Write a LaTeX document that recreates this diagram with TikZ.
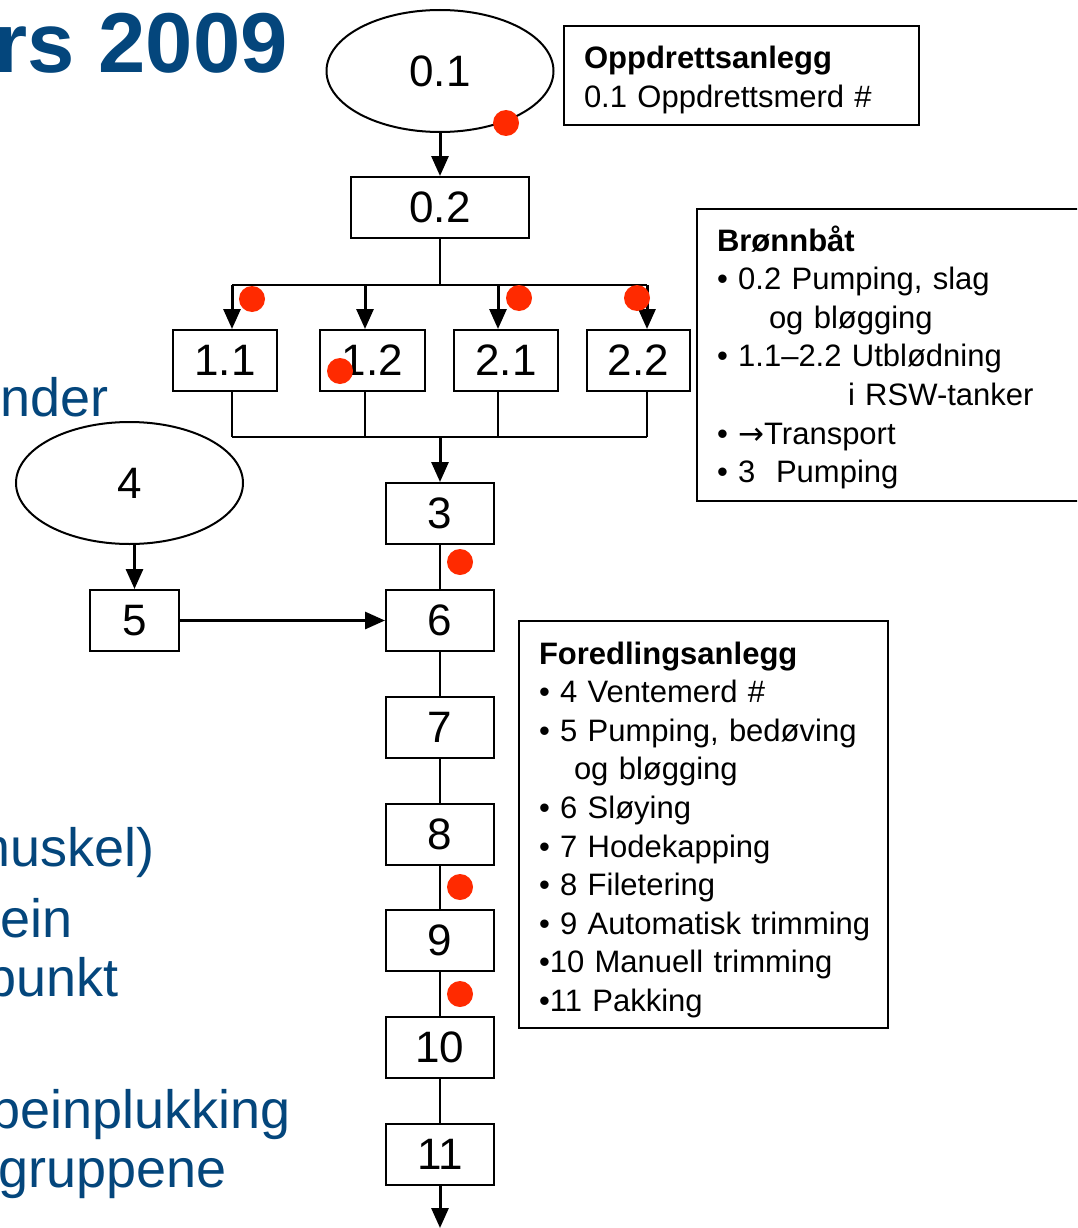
\documentclass[tikz,border=0pt]{standalone}
\usepackage{fontspec}
\setmainfont{Liberation Sans}
\newfontfamily\arrowfont{DejaVu Sans}
\usetikzlibrary{arrows.meta,shapes.geometric}
\definecolor{slideblue}{RGB}{4,70,124}
\definecolor{dotred}{RGB}{255,42,0}
\newcommand{\numfont}{\fontsize{44}{44}\selectfont}
\newcommand{\boxfont}{\fontsize{31}{38.6}\selectfont}
\newcommand{\bluefont}{\fontsize{54}{60}\selectfont}

\begin{document}
\begin{tikzpicture}[x=1pt,y=-1pt]
    \useasboundingbox (0,0) rectangle (1077,1228);
    \clip (0,0) rectangle (1077,1228);

    % slide text behind the chart
    \begin{scope}[every node/.style={text=slideblue,inner sep=0pt,anchor=base east,font=\bluefont}]
      \node[font=\fontsize{85}{85}\selectfont\bfseries] (T) at (288,73) {rs 2009};
      \node (L1) at (109,416) {nder};
      \node (L2) at (155,866) {muskel)};
      \node (L3) at (73,937) {ein};
      \node (L4) at (119,996) {punkt};
      \node (L5) at (291,1128) {beinplukking};
      \node (L6) at (227,1187) {gruppene};
    \end{scope}

    \begin{scope}[every node/.style={draw=black,line width=2pt,inner sep=0pt,font=\numfont,minimum height=61pt}]
      \node[shape=ellipse,minimum width=227pt,minimum height=122pt] (E01) at (440,71) {0.1};
      \node[minimum width=178pt] (B02) at (440,207.5) {0.2};
      \node[minimum width=104pt] (B11) at (225,360.5) {1.1};
      \node[minimum width=105pt] (B12) at (372.5,360.5) {1.2};
      \node[minimum width=104pt] (B21) at (506,360.5) {2.1};
      \node[minimum width=103pt] (B22) at (638.5,360.5) {2.2};
      \node[shape=ellipse,minimum width=227pt,minimum height=122pt] (E4) at (129.5,483) {4};
      \node[minimum width=89pt] (B5) at (134.5,620.5) {5};
      \node[minimum width=108pt] (B3) at (440,513.5) {3};
      \node[minimum width=108pt] (B6) at (440,620.5) {6};
      \node[minimum width=108pt] (B7) at (440,727.5) {7};
      \node[minimum width=108pt] (B8) at (440,834.5) {8};
      \node[minimum width=108pt] (B9) at (440,940.5) {9};
      \node[minimum width=108pt] (B10) at (440,1047.5) {10};
      \node[minimum width=108pt] (B11b) at (440,1154.5) {11};
    \end{scope}

    \begin{scope}[every node/.style={draw=black,line width=2pt,anchor=north west,inner xsep=20pt,inner ysep=0pt,align=left,font=\boxfont}]
      \node[text width=315pt,text height=43pt,text depth=56pt] (O) at (563,25)
           {\textbf{Oppdrettsanlegg}\\0.1 Oppdrettsmerd \#};
      \node[text width=362pt,text height=42pt,text depth=250pt] (BB) at (696,208)
           {\textbf{Brønnbåt}\\
            • 0.2 Pumping, slag\\
            \hspace*{52pt}og bløgging\\
            • 1.1–2.2 Utblødning\\
            \hspace*{131pt}i RSW-tanker\\
            • {\arrowfont →}Transport\\
            • 3~~Pumping};
      \node[text width=329pt,text height=43pt,text depth=364pt] (F) at (518,620)
           {\textbf{Foredlingsanlegg}\\
            • 4 Ventemerd \#\\
            • 5 Pumping, bedøving\\
            \hspace*{35pt}og bløgging\\
            • 6 Sløying\\
            • 7 Hodekapping\\
            • 8 Filetering\\
            \mbox{• 9 Automatisk trimming}\\
            •10 Manuell trimming\\
            •11 Pakking};
    \end{scope}

    \coordinate (S) at (440,285);
    \coordinate (T11) at (232,285);
    \coordinate (T12) at (365,285);
    \coordinate (T21) at (498,285);
    \coordinate (T22) at (647,285);
    \coordinate (J) at (440,437);
    \coordinate (U11) at (232,437);
    \coordinate (U12) at (365,437);
    \coordinate (U21) at (498,437);
    \coordinate (U22) at (647,437);
    \coordinate (Out) at (440,1228);

    \begin{scope}[line width=2pt]
      \draw (B02.south) -- (S);
      \draw (T11) -- (T22);
      \draw (U11 |- B11.south) -- (U11);
      \draw (U12 |- B12.south) -- (U12);
      \draw (U21 |- B21.south) -- (U21);
      \draw (U22 |- B22.south) -- (U22);
      \draw (U11) -- (U22);
      \draw (B3) -- (B6);
      \draw (B6) -- (B7);
      \draw (B7) -- (B8);
      \draw (B8) -- (B9);
      \draw (B9) -- (B10);
      \draw (B10) -- (B11b);
    \end{scope}

    \begin{scope}[>={Triangle[length=20pt,width=17pt]},
        every edge/.style={draw=black,line width=3pt}]
      \path [->] (E01.south) edge (B02.north);
      \path [->] (T11) edge (T11 |- B11.north);
      \path [->] (T12) edge (T12 |- B12.north);
      \path [->] (T21) edge (T21 |- B21.north);
      \path [->] (T22) edge (T22 |- B22.north);
      \path [->] (J) edge (B3.north);
      \path [->] (E4.south -| B5.north) edge (B5.north);
      \path [->] (B5.east) edge (B6.west);
      \path [->] (B11b.south) edge (Out);
    \end{scope}

    \begin{scope}[every node/.style={circle,fill=dotred,inner sep=0pt,minimum size=26pt}]
      \node (R1) at (506,123) {};
      \node (R2) at (252,299) {};
      \node (R3) at (340,371) {};
      \node (R4) at (519,298) {};
      \node (R5) at (637,298) {};
      \node (R6) at (460,562) {};
      \node (R7) at (460,887) {};
      \node (R8) at (460,994) {};
    \end{scope}
  \end{tikzpicture}
\end{document}
